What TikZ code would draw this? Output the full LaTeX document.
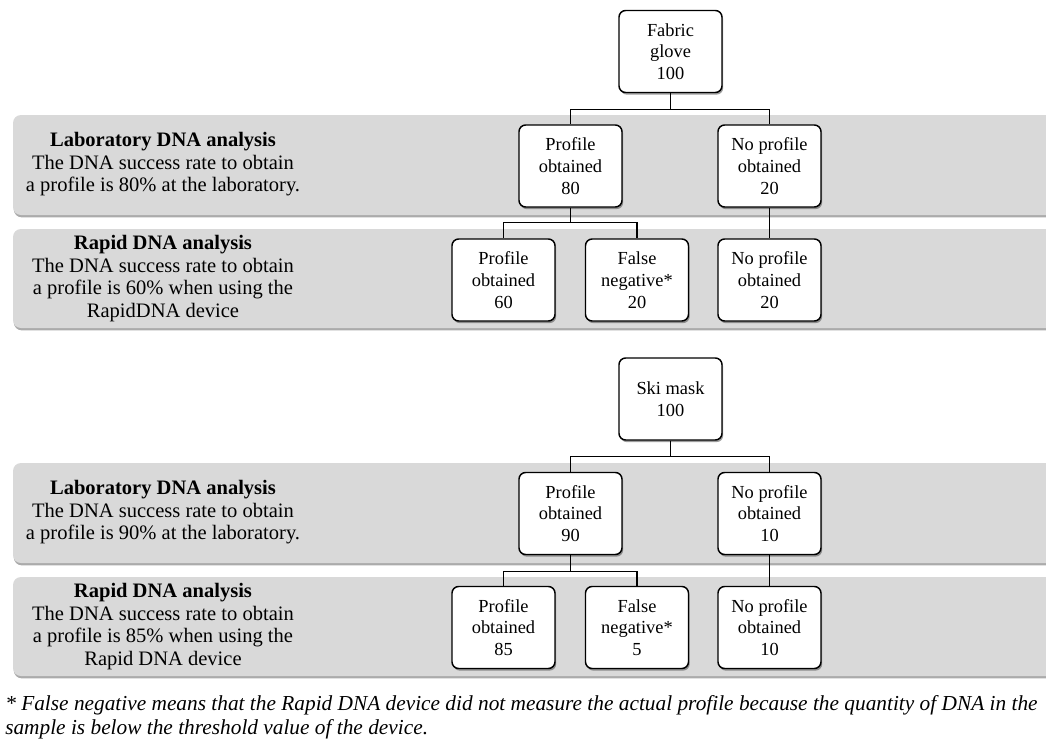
\documentclass[tikz,border=0pt]{standalone}
\usepackage{fontspec}
\setmainfont{Liberation Serif}
\usetikzlibrary{shadows}
\tikzset{
  band/.style={fill=black!15, rounded corners=6pt,
    drop shadow={shadow xshift=0.6pt, shadow yshift=-1.8pt, fill=black!55, opacity=0.6}},
  ebox/.style={draw, line width=1.1pt, rounded corners=5pt, fill=white,
    minimum width=77.25pt, minimum height=61.5pt, inner sep=0pt, align=center,
    font=\fontsize{13.8}{16.3}\selectfont,
    drop shadow={shadow xshift=0.9pt, shadow yshift=-1.6pt, fill=black!70, opacity=0.55}},
  side/.style={align=center, font=\fontsize{15.4}{16.9}\selectfont, inner sep=0pt},
  link/.style={line width=0.9pt},
  note/.style={anchor=west, align=left, inner sep=0pt, font=\fontsize{16}{18}\selectfont\itshape}
}
\begin{document}
\begin{tikzpicture}[x=0.75pt,y=-0.75pt]
\useasboundingbox (0,0) rectangle (1046,746);
\clip (0,0) rectangle (1046,746);
% bands
\path[band] (13,115) rectangle (1070,215);
\path[band] (13,229) rectangle (1070,328);
\path[band] (13,463) rectangle (1070,563);
\path[band] (13,577) rectangle (1070,676);
% side texts
\node[side] (lab1) at (163,164.5) {\textbf{Laboratory DNA analysis}\\The DNA success rate to obtain\\a profile is 80\% at the laboratory.};
\node[side] (rap1) at (163,278.5) {\textbf{Rapid DNA analysis}\\The DNA success rate to obtain\\a profile is 60\% when using the\\RapidDNA device};
\node[side] (lab2) at (163,512.5) {\textbf{Laboratory DNA analysis}\\The DNA success rate to obtain\\a profile is 90\% at the laboratory.};
\node[side] (rap2) at (163,626.5) {\textbf{Rapid DNA analysis}\\The DNA success rate to obtain\\a profile is 85\% when using the\\Rapid DNA device};
% tree 1
\node[ebox] (r1) at (670.5,51.5) {Fabric\\glove\\100};
\node[ebox] (p80) at (570.5,166) {Profile\\obtained\\80};
\node[ebox] (n20) at (769.5,166) {No profile\\obtained\\20};
\node[ebox] (p60) at (503.5,280) {Profile\\obtained\\60};
\node[ebox] (f20) at (637,280) {False\\negative*\\20};
\node[ebox] (n20b) at (769.5,280) {No profile\\obtained\\20};
\draw[link] (r1.south) -- ++(0,16) -| (p80.north);
\draw[link] (r1.south) -- ++(0,16) -| (n20.north);
\draw[link] (p80.south) -- ++(0,15) -| (p60.north);
\draw[link] (p80.south) -- ++(0,15) -| (f20.north);
\draw[link] (n20.south) -- (n20b.north);
% tree 2
\node[ebox] (r2) at (670.5,399) {Ski mask\\100};
\node[ebox] (p90) at (570.5,513.5) {Profile\\obtained\\90};
\node[ebox] (n10) at (769.5,513.5) {No profile\\obtained\\10};
\node[ebox] (p85) at (503.5,627.5) {Profile\\obtained\\85};
\node[ebox] (f5) at (637,627.5) {False\\negative*\\5};
\node[ebox] (n10b) at (769.5,627.5) {No profile\\obtained\\10};
\draw[link] (r2.south) -- ++(0,16) -| (p90.north);
\draw[link] (r2.south) -- ++(0,16) -| (n10.north);
\draw[link] (p90.south) -- ++(0,16) -| (p85.north);
\draw[link] (p90.south) -- ++(0,16) -| (f5.north);
\draw[link] (n10.south) -- (n10b.north);
% footnote
\node[note] (fn) at (5,717) {* False negative means that the Rapid DNA device did not measure the actual profile because the quantity of DNA in the\\sample is below the threshold value of the device.};
\end{tikzpicture}
\end{document}
